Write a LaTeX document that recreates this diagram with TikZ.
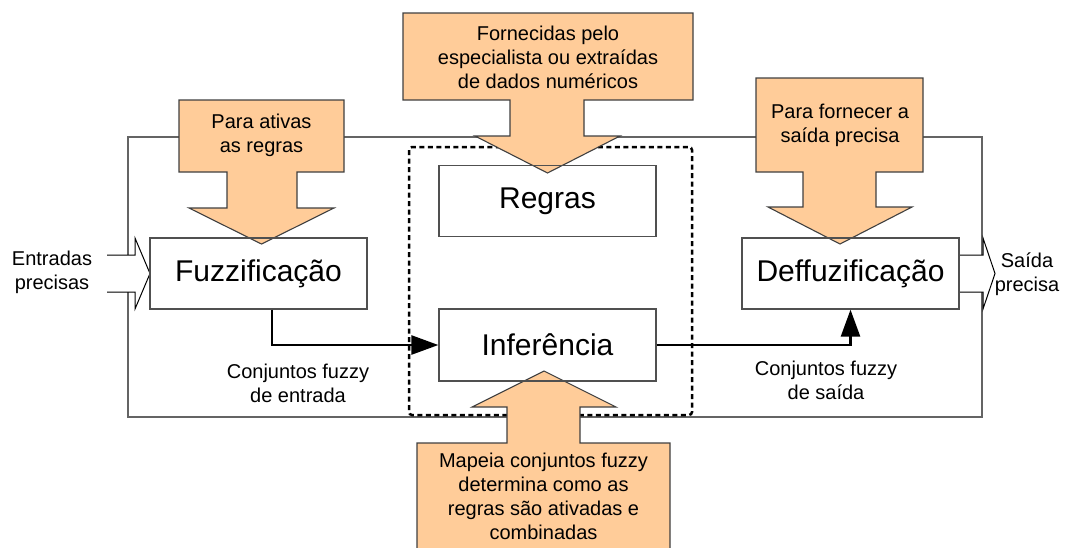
\documentclass[tikz,border=0pt]{standalone}
\usepackage{fontspec}
\setmainfont{Liberation Sans}
\usetikzlibrary{arrows.meta}
\definecolor{calloutfill}{RGB}{255,204,153}
\definecolor{calloutline}{RGB}{64,64,64}
\definecolor{boxline}{RGB}{80,80,80}
\definecolor{frameline}{RGB}{100,100,100}
\begin{document}
\begin{tikzpicture}[x=1pt,y=-1pt,
  bigfont/.style={font=\fontsize{30}{36}\selectfont},
  smallfont/.style={font=\fontsize{20}{24}\selectfont},
  block/.style={draw=boxline, line width=1.3pt, minimum width=217pt, minimum height=71pt, inner sep=0pt, bigfont},
  callout/.style={fill=calloutfill, draw=calloutline, line width=1.1pt},
  lbl/.style={smallfont, align=center, inner sep=0pt},
  flow/.style={line width=2.6pt, -{Triangle[length=27pt,width=19pt]}},
  openarrow/.style={fill=white, draw=black, line width=1pt},
  frame/.style={draw=frameline, line width=1.2pt},
  dashbox/.style={draw=black, line width=2.5pt, dash pattern=on 5pt off 3.5pt, rounded corners=3pt}
]
\useasboundingbox (0,0) rectangle (1067,547);

% outer frame and dashed group
\draw[frame] (128,137) rectangle (982,417);
\draw[dashbox] (409,147) rectangle (692,415);

% open input / output arrows
\draw[openarrow] (107,255) -- (135,255) -- (135,238) -- (150,273.5) -- (135,309) -- (135,292) -- (107,292);
\draw[openarrow] (959,255) -- (983,255) -- (983,238) -- (995,273.5) -- (983,309) -- (983,292) -- (959,292);

% callouts
\filldraw[callout] (179,100) -- (344,100) -- (344,172) -- (297,172) -- (297,208) -- (334,208) -- (261.5,244) -- (189,208) -- (227,208) -- (227,172) -- (179,172) -- cycle;
\filldraw[callout] (403,13) -- (693,13) -- (693,100) -- (584,100) -- (584,136) -- (620,136) -- (547.5,173) -- (475,136) -- (510,136) -- (510,100) -- (403,100) -- cycle;
\filldraw[callout] (756,78) -- (923,78) -- (923,172) -- (876,172) -- (876,207) -- (912,207) -- (840,244) -- (768,207) -- (803,207) -- (803,172) -- (756,172) -- cycle;
\filldraw[callout] (417,560) -- (417,443) -- (507,443) -- (507,407) -- (472,407) -- (544,371) -- (616,407) -- (580,407) -- (580,443) -- (670,443) -- (670,560) -- cycle;

\node[lbl] (t1) at (261.5,135.5) {Para ativas\\as regras};
\node[lbl] (t2) at (548,57) {Fornecidas pelo\\especialista ou extraídas\\de dados numéricos};
\node[lbl] (t3) at (840,125) {Para fornecer a\\saída precisa};
\node[lbl] (t4) at (543.5,496.5) {Mapeia conjuntos fuzzy\\determina como as\\regras são ativadas e\\combinadas};

% blocks
\node[block] (fuzz) at (258.5,273.5) {Fuzzificação};
\node[block] (deff) at (850.5,273.5) {Deffuzificação};
\node[block] (regras) at (547.5,201) {Regras};
\node[block, minimum height=72pt] (inf) at (547.5,345) {Inferência};

% flows
\draw[flow] ([xshift=13.5pt]fuzz.south) |- (inf.west);
\draw[flow] (inf.east) -| (deff.south);

% labels
\node[lbl] (lin) at (298,383.5) {Conjuntos fuzzy\\de entrada};
\node[lbl] (lout) at (826,380.5) {Conjuntos fuzzy\\de saída};
\node[lbl] (ein) at (52,272.5) {Entradas\\precisas};
\node[lbl] (sout) at (1027,274.5) {Saída\\precisa};
\end{tikzpicture}
\end{document}
